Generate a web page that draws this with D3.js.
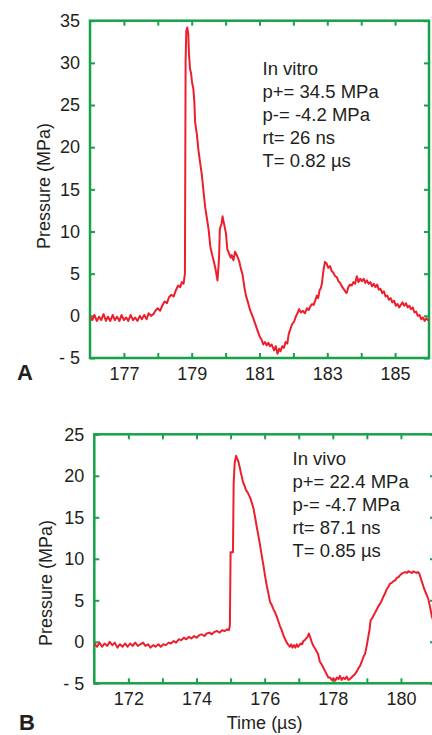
<!DOCTYPE html>
<html><head><meta charset="utf-8">
<script src="https://cdn.jsdelivr.net/npm/d3@7"></script>
<style>
html,body{margin:0;padding:0;background:#fff;}
svg text{font-family:"Liberation Sans",Arial,sans-serif;fill:#231f20;}
</style></head>
<body><svg id="chart" width="432" height="735"></svg>
<script>
// ---------- Panel A (in vitro) ----------
const timeA = [176.00,176.07,176.13,176.20,176.27,176.33,176.40,176.47,176.53,176.60,176.67,176.73,176.80,176.87,176.93,177.00,177.07,177.13,177.20,177.27,177.33,177.40,177.47,177.53,177.60,177.67,177.73,177.80,177.87,177.93,178.00,178.07,178.13,178.20,178.27,178.33,178.40,178.47,178.53,178.60,178.66,178.71,178.76,178.80,178.82,178.84,178.87,178.90,178.92,178.95,178.98,179.01,179.05,179.08,179.10,179.15,179.20,179.25,179.30,179.35,179.40,179.44,179.50,179.55,179.60,179.65,179.70,179.76,179.79,179.81,179.83,179.88,179.91,179.95,180.01,180.05,180.10,180.15,180.18,180.23,180.28,180.34,180.40,180.45,180.50,180.55,180.60,180.66,180.72,180.79,180.87,180.93,181.01,181.06,181.11,181.16,181.21,181.26,181.31,181.36,181.43,181.48,181.53,181.58,181.62,181.67,181.72,181.77,181.82,181.86,181.90,181.96,182.02,182.07,182.12,182.17,182.22,182.28,182.34,182.40,182.45,182.50,182.55,182.60,182.65,182.69,182.73,182.77,182.81,182.84,182.88,182.93,182.98,183.03,183.08,183.13,183.18,183.23,183.28,183.33,183.38,183.43,183.48,183.53,183.57,183.62,183.67,183.72,183.77,183.82,183.87,183.92,183.97,184.02,184.07,184.12,184.17,184.22,184.27,184.32,184.37,184.42,184.47,184.52,184.57,184.62,184.67,184.72,184.77,184.82,184.87,184.92,184.97,185.02,185.07,185.12,185.17,185.22,185.27,185.32,185.37,185.42,185.47,185.52,185.57,185.62,185.67,185.72,185.77,185.82,185.87,185.92,185.97,186.00];
const pressureA = [-0.1,-0.5,0.1,-0.6,-0.1,-0.5,0.2,-0.6,-0.1,-0.6,0.1,-0.5,-0.1,-0.6,0.1,-0.5,-0.2,-0.6,0.1,-0.5,-0.2,-0.6,0.0,-0.4,0.1,-0.4,0.3,0.0,0.2,0.6,0.9,0.6,1.2,1.7,1.5,2.2,2.5,2.3,3.0,3.6,3.4,4.0,3.8,5.0,30.0,33.8,34.2,33.4,31.0,29.3,28.8,27.7,26.9,25.2,23.0,21.6,19.6,18.1,16.7,14.7,12.8,11.8,10.2,8.2,7.3,6.5,5.6,4.2,5.8,7.2,10.3,10.9,11.8,11.0,9.8,7.9,7.4,6.9,7.2,6.6,7.6,7.1,6.5,5.6,4.9,3.5,2.4,1.6,0.7,0.0,-0.9,-1.6,-2.5,-2.8,-3.4,-3.1,-3.5,-3.2,-3.6,-3.4,-4.1,-3.6,-4.5,-3.9,-4.2,-3.6,-3.8,-3.1,-3.3,-2.2,-1.7,-1.0,-0.7,-0.1,0.3,0.8,0.4,0.6,0.3,0.9,0.7,1.1,1.4,1.3,1.9,2.4,2.1,3.0,3.3,3.8,5.2,6.4,6.2,5.7,5.9,5.3,5.1,4.7,4.6,4.1,3.9,3.5,3.2,2.9,2.7,3.4,3.7,3.6,4.0,3.8,4.7,4.0,4.4,4.1,4.4,3.9,4.2,3.8,4.0,3.5,3.8,3.4,3.7,3.1,3.2,2.7,2.9,2.3,2.4,1.9,2.1,1.6,1.8,1.2,1.4,1.0,1.3,1.6,1.2,1.5,1.0,1.2,0.8,1.0,0.4,0.5,0.0,0.1,-0.4,-0.2,-0.6,-0.3,-0.5,-0.4];
const xDomainA = [176, 186];
const yDomainA = [-5, 35];
const xTicksA = [177,178,179,180,181,182,183,184,185];
const xLabelsA = [177,179,181,183,185];
const yTicksA = [-5,0,5,10,15,20,25,30,35];
const notesA = ["In vitro","p+= 34.5 MPa","p-= -4.2 MPa","rt= 26 ns","T= 0.82 \u00b5s"];

// ---------- Panel B (in vivo) ----------
const timeB = [171.00,171.08,171.15,171.23,171.30,171.38,171.45,171.53,171.60,171.68,171.75,171.83,171.90,171.98,172.05,172.13,172.20,172.28,172.35,172.43,172.50,172.58,172.65,172.73,172.80,172.88,172.95,173.03,173.10,173.18,173.25,173.33,173.40,173.48,173.55,173.63,173.70,173.78,173.85,173.93,174.00,174.08,174.15,174.23,174.30,174.38,174.45,174.53,174.60,174.68,174.75,174.83,174.90,174.95,174.98,175.00,175.07,175.09,175.12,175.16,175.20,175.23,175.27,175.30,175.33,175.36,175.40,175.45,175.50,175.57,175.62,175.67,175.72,175.77,175.82,175.86,175.91,175.96,176.01,176.06,176.11,176.16,176.20,176.25,176.30,176.35,176.40,176.45,176.50,176.55,176.60,176.65,176.70,176.74,176.78,176.82,176.86,176.90,176.94,176.98,177.02,177.06,177.10,177.14,177.18,177.22,177.26,177.30,177.34,177.38,177.43,177.48,177.52,177.57,177.62,177.67,177.72,177.77,177.82,177.87,177.92,177.97,178.02,178.07,178.12,178.17,178.21,178.26,178.31,178.36,178.41,178.46,178.50,178.55,178.60,178.65,178.70,178.75,178.80,178.85,178.90,178.95,179.00,179.05,179.08,179.11,179.15,179.20,179.24,179.29,179.34,179.39,179.44,179.49,179.53,179.58,179.63,179.68,179.73,179.78,179.83,179.88,179.93,179.97,180.02,180.07,180.12,180.17,180.22,180.27,180.32,180.37,180.41,180.46,180.50,180.54,180.58,180.61,180.65,180.68,180.72,180.76,180.80,180.85,180.91,180.96,181.00];
const pressureB = [-0.2,-0.6,-0.1,-0.6,-0.2,-0.5,0.0,-0.4,-0.1,-0.7,-0.3,-0.6,-0.2,-0.6,-0.2,-0.5,-0.1,-0.5,-0.3,-0.1,-0.5,-0.3,-0.7,-0.4,-0.6,-0.3,-0.6,-0.3,-0.4,-0.1,-0.2,0.1,-0.1,0.3,0.2,0.5,0.3,0.6,0.4,0.7,0.5,0.8,0.9,0.7,1.0,1.1,0.9,1.2,1.3,1.1,1.4,1.3,1.5,1.4,2.0,10.8,10.8,19.0,21.5,22.4,22.0,21.7,21.0,20.4,19.9,19.3,18.9,18.3,18.0,17.4,16.8,16.1,15.0,13.8,12.7,11.8,10.5,9.3,8.0,6.8,5.8,4.8,4.5,4.0,3.6,3.1,2.5,1.9,1.4,0.8,0.3,-0.1,-0.4,-0.6,-0.3,-0.7,-0.4,-0.7,-0.3,-0.6,-0.4,-0.2,-0.3,0.1,0.2,0.4,0.6,1.0,0.5,0.0,-0.5,-0.8,-1.1,-1.5,-2.4,-2.7,-3.1,-3.5,-3.9,-4.3,-4.3,-4.6,-4.4,-4.7,-4.3,-4.5,-4.1,-4.6,-4.3,-4.5,-4.2,-4.6,-4.5,-4.3,-4.1,-3.9,-3.6,-3.2,-2.9,-2.4,-1.8,-1.4,-0.4,0.8,1.5,2.6,2.8,3.2,3.5,3.9,4.3,4.6,5.0,5.5,5.8,6.3,6.6,7.0,7.1,7.3,7.4,7.7,7.8,8.0,8.2,8.3,8.4,8.3,8.5,8.4,8.3,8.5,8.4,8.3,8.4,8.2,7.7,7.3,6.8,6.4,6.0,5.6,5.2,4.3,3.0,2.5,2.0];
const xDomainB = [171, 181];
const yDomainB = [-5, 25];
const xTicksB = [172,173,174,175,176,177,178,179,180];
const xLabelsB = [172,174,176,178,180];
const yTicksB = [-5,0,5,10,15,20,25];
const notesB = ["In vivo","p+= 22.4 MPa","p-= -4.7 MPa","rt= 87.1 ns","T= 0.85 \u00b5s"];

const GREEN = "#17a24a", RED = "#ee1f2c";
const svg = d3.select("#chart");

function panel(cfg) {
  const g = svg.append("g");
  const x = d3.scaleLinear().domain(cfg.xDomain).range([cfg.left, cfg.right]);
  const y = d3.scaleLinear().domain(cfg.yDomain).range([cfg.bottom, cfg.top]);
  const clipId = "clip" + cfg.id;
  svg.append("clipPath").attr("id", clipId).append("rect")
    .attr("x", cfg.left).attr("y", cfg.top - 4)
    .attr("width", cfg.right - cfg.left).attr("height", cfg.bottom - cfg.top + 4);

  const fmtX = d => cfg.xLabels.includes(d) ? String(d) : "";
  const styleAxis = (sel) => {
    sel.select(".domain").remove();
    sel.selectAll(".tick line").attr("stroke", GREEN).attr("stroke-width", 2);
    sel.selectAll(".tick text").attr("font-size", 18).attr("fill", "#231f20")
      .attr("font-family", "Liberation Sans, Arial, sans-serif");
  };
  g.append("g").attr("transform", `translate(0,${cfg.bottom})`)
    .call(d3.axisBottom(x).tickValues(cfg.xTicks).tickSize(-5).tickPadding(9).tickFormat(fmtX))
    .call(styleAxis);
  g.append("g").attr("transform", `translate(0,${cfg.top})`)
    .call(d3.axisTop(x).tickValues(cfg.xTicks).tickSize(-5).tickFormat(""))
    .call(styleAxis);
  g.append("g").attr("transform", `translate(${cfg.left},0)`)
    .call(d3.axisLeft(y).tickValues(cfg.yTicks).tickSize(-5).tickPadding(10).tickFormat(d => d < 0 ? "- " + Math.abs(d) : String(d)))
    .call(styleAxis);
  g.append("g").attr("transform", `translate(${cfg.right},0)`)
    .call(d3.axisRight(y).tickValues(cfg.yTicks).tickSize(-5).tickFormat(""))
    .call(styleAxis);

  g.append("rect").attr("x", cfg.left).attr("y", cfg.top)
    .attr("width", cfg.right - cfg.left).attr("height", cfg.bottom - cfg.top)
    .attr("fill", "none").attr("stroke", GREEN).attr("stroke-width", 2.5);

  const pts = cfg.t.map((t, i) => [t, cfg.p[i]]);
  g.append("path").datum(pts)
    .attr("clip-path", `url(#${clipId})`)
    .attr("fill", "none").attr("stroke", RED).attr("stroke-width", 2)
    .attr("stroke-linejoin", "round")
    .attr("d", d3.line().x(d => x(d[0])).y(d => y(d[1])));

  g.append("text")
    .attr("transform", `translate(${cfg.ylabX},${cfg.ylabY}) rotate(-90)`)
    .attr("text-anchor", "middle").attr("font-size", 18)
    .text("Pressure (MPa)");

  cfg.notes.forEach((s, i) => {
    g.append("text").attr("x", cfg.noteX).attr("y", cfg.noteY + i * 23)
      .attr("font-size", 18.5).text(s);
  });

  g.append("text").attr("x", cfg.letterX).attr("y", cfg.letterY)
    .attr("font-family", "Liberation Sans Narrow, Arial Narrow, sans-serif")
    .attr("font-weight", "bold").attr("font-size", 22).attr("fill", "#231f20")
    .text(cfg.letter);
  return {x, y};
}

panel({id:"A", t: timeA, p: pressureA, xDomain: xDomainA, yDomain: yDomainA,
  xTicks: xTicksA, xLabels: xLabelsA, yTicks: yTicksA, notes: notesA,
  left: 90, right: 429, top: 20.7, bottom: 358,
  ylabX: 50, ylabY: 186, noteX: 262.5, noteY: 75, letter: "A", letterX: 17, letterY: 380});

panel({id:"B", t: timeB, p: pressureB, xDomain: xDomainB, yDomain: yDomainB,
  xTicks: xTicksB, xLabels: xLabelsB, yTicks: yTicksB, notes: notesB,
  left: 94.3, right: 435, top: 434.3, bottom: 683.3,
  ylabX: 52, ylabY: 583, noteX: 292.5, noteY: 465, letter: "B", letterX: 19, letterY: 730});

svg.append("text").attr("x", (94.3 + 435) / 2).attr("y", 729)
  .attr("text-anchor", "middle").attr("font-size", 18).text("Time (\u00b5s)");
</script></body></html>
